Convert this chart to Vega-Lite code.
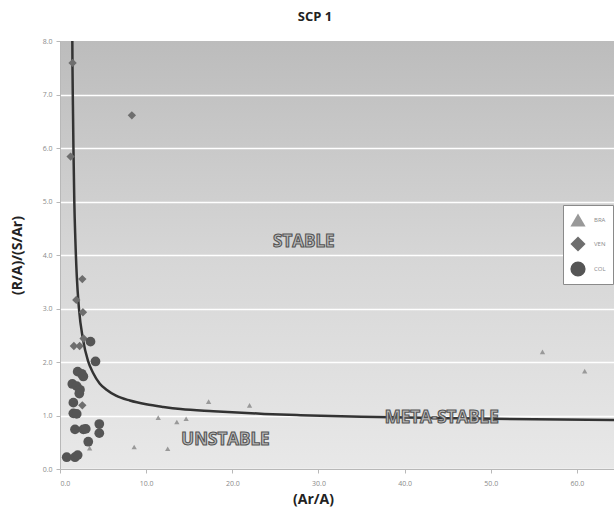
{
  "$schema": "https://vega.github.io/schema/vega-lite/v6.json",
  "width": 554,
  "height": 428,
  "autosize": {"type": "none"},
  "padding": {"left": 60, "top": 41, "right": 0, "bottom": 50},
  "background": "white",
  "title": {"text": "SCP 1", "fontSize": 13, "font": "Open Sans", "fontWeight": "bold", "color": "#222222", "offset": 13, "dx": -22},
  "config": {
    "view": {"stroke": null, "fill": {"gradient": "linear", "x1": 0, "y1": 0, "x2": 0, "y2": 1, "stops": [{"offset": 0, "color": "#bcbcbc"}, {"offset": 0.5, "color": "#d6d6d6"}, {"offset": 1, "color": "#e8e8e8"}]}},
    "axis": {"labelFont": "Open Sans", "labelFontSize": 7, "labelColor": "#8a8a8a", "tickColor": "#b8b8b8", "domainColor": "#b8b8b8", "tickSize": 4, "titleFont": "Open Sans", "titleFontSize": 14, "titleFontWeight": "bold", "titleColor": "#222222"},
    "legend": {"title": null, "orient": "none", "legendX": 503, "legendY": 164, "fillColor": "#ffffff", "strokeColor": "#8a8a8a", "padding": 7, "symbolSize": 230, "labelFontSize": 6, "labelColor": "#8a8a8a", "labelFont": "Open Sans", "rowPadding": 9, "labelOffset": 8, "symbolStrokeWidth": 0}
  },
  "datasets": {
    "points": [
      {"series": "BRA", "arA": 17.25, "ratio": 1.26},
      {"series": "BRA", "arA": 22.0, "ratio": 1.19},
      {"series": "BRA", "arA": 11.4, "ratio": 0.96},
      {"series": "BRA", "arA": 13.56, "ratio": 0.88},
      {"series": "BRA", "arA": 14.64, "ratio": 0.94},
      {"series": "BRA", "arA": 8.61, "ratio": 0.41},
      {"series": "BRA", "arA": 12.5, "ratio": 0.38},
      {"series": "BRA", "arA": 3.44, "ratio": 0.39},
      {"series": "BRA", "arA": 56.0, "ratio": 2.19},
      {"series": "BRA", "arA": 60.9, "ratio": 1.83},
      {"series": "VEN", "arA": 1.46, "ratio": 7.59},
      {"series": "VEN", "arA": 1.23, "ratio": 5.84},
      {"series": "VEN", "arA": 8.34, "ratio": 6.61},
      {"series": "VEN", "arA": 2.59, "ratio": 3.55},
      {"series": "VEN", "arA": 1.89, "ratio": 3.16},
      {"series": "VEN", "arA": 2.66, "ratio": 2.93},
      {"series": "VEN", "arA": 2.74, "ratio": 2.44},
      {"series": "VEN", "arA": 1.61, "ratio": 2.30},
      {"series": "VEN", "arA": 2.28, "ratio": 2.30},
      {"series": "VEN", "arA": 2.59, "ratio": 1.19},
      {"series": "COL", "arA": 3.54, "ratio": 2.38},
      {"series": "COL", "arA": 4.12, "ratio": 2.01},
      {"series": "COL", "arA": 2.05, "ratio": 1.82},
      {"series": "COL", "arA": 2.52, "ratio": 1.78},
      {"series": "COL", "arA": 2.71, "ratio": 1.73},
      {"series": "COL", "arA": 1.43, "ratio": 1.59},
      {"series": "COL", "arA": 1.94, "ratio": 1.55},
      {"series": "COL", "arA": 2.32, "ratio": 1.48},
      {"series": "COL", "arA": 2.24, "ratio": 1.41},
      {"series": "COL", "arA": 1.55, "ratio": 1.24},
      {"series": "COL", "arA": 1.55, "ratio": 1.04},
      {"series": "COL", "arA": 1.94, "ratio": 1.03},
      {"series": "COL", "arA": 1.74, "ratio": 0.74},
      {"series": "COL", "arA": 2.71, "ratio": 0.74},
      {"series": "COL", "arA": 2.99, "ratio": 0.75},
      {"series": "COL", "arA": 4.56, "ratio": 0.84},
      {"series": "COL", "arA": 4.56, "ratio": 0.67},
      {"series": "COL", "arA": 3.28, "ratio": 0.51},
      {"series": "COL", "arA": 0.78, "ratio": 0.22},
      {"series": "COL", "arA": 1.74, "ratio": 0.22},
      {"series": "COL", "arA": 2.05, "ratio": 0.26}
    ],
    "curve": [
      {"arA": 1.42, "ratio": 8.3},
      {"arA": 1.45, "ratio": 7.5},
      {"arA": 1.5, "ratio": 6.8},
      {"arA": 1.56, "ratio": 6.0},
      {"arA": 1.66, "ratio": 5.0},
      {"arA": 1.78, "ratio": 4.3},
      {"arA": 1.95, "ratio": 3.6},
      {"arA": 2.2, "ratio": 3.0},
      {"arA": 2.66, "ratio": 2.43},
      {"arA": 3.25, "ratio": 2.02},
      {"arA": 3.83, "ratio": 1.8},
      {"arA": 4.6, "ratio": 1.6},
      {"arA": 5.4, "ratio": 1.48},
      {"arA": 6.5, "ratio": 1.37},
      {"arA": 8.1, "ratio": 1.28},
      {"arA": 10.0, "ratio": 1.21},
      {"arA": 12.0, "ratio": 1.16},
      {"arA": 14.0, "ratio": 1.12},
      {"arA": 17.8, "ratio": 1.08},
      {"arA": 23.7, "ratio": 1.03},
      {"arA": 27.9, "ratio": 1.005},
      {"arA": 35.0, "ratio": 0.975},
      {"arA": 45.0, "ratio": 0.95},
      {"arA": 55.0, "ratio": 0.93},
      {"arA": 64.3, "ratio": 0.915}
    ],
    "labels": [
      {"text": "STABLE", "arA": 28.3, "ratio": 4.25},
      {"text": "UNSTABLE", "arA": 19.2, "ratio": 0.55},
      {"text": "META-STABLE", "arA": 44.3, "ratio": 0.96}
    ]
  },
  "layer": [
    {
      "data": {"name": "curve"},
      "mark": {"type": "line", "color": "#333333", "strokeWidth": 2.5, "interpolate": "monotone", "clip": true},
      "encoding": {
        "x": {"field": "arA", "type": "quantitative", "scale": {"domain": [0, 64.3], "nice": false}, "axis": {"values": [0, 10, 20, 30, 40, 50, 60], "format": ".1f", "grid": false, "title": "(Ar/A)", "titlePadding": 6, "labelPadding": 6, "titleX": 253}},
        "y": {"field": "ratio", "type": "quantitative", "scale": {"domain": [0, 8], "nice": false}, "axis": {"values": [0, 1, 2, 3, 4, 5, 6, 7, 8], "format": ".1f", "grid": true, "gridColor": {"condition": {"test": "datum.value == 8", "value": "transparent"}, "value": "#ffffff"}, "gridWidth": 1.5, "title": "(R/A)/(S/Ar)", "titlePadding": 18, "labelPadding": 4}},
        "order": {"field": "arA", "type": "quantitative"}
      }
    },
    {
      "data": {"name": "labels"},
      "mark": {"type": "text", "font": "Open Sans", "fontWeight": "bold", "fontSize": 17, "fill": "#bdbdbd", "stroke": "#555555", "strokeWidth": 1.1},
      "encoding": {
        "x": {"field": "arA", "type": "quantitative"},
        "y": {"field": "ratio", "type": "quantitative"},
        "text": {"field": "text"}
      }
    },
    {
      "data": {"name": "points"},
      "transform": [{"filter": "datum.series == 'BRA'"}],
      "mark": {"type": "point", "filled": true, "opacity": 1, "clip": true, "size": 28},
      "encoding": {
        "x": {"field": "arA", "type": "quantitative"},
        "y": {"field": "ratio", "type": "quantitative"},
        "shape": {"field": "series", "type": "nominal", "scale": {"domain": ["BRA", "VEN", "COL"], "range": ["triangle-up", "diamond", "circle"]}},
        "color": {"field": "series", "type": "nominal", "scale": {"domain": ["BRA", "VEN", "COL"], "range": ["#999999", "#6e6e6e", "#555555"]}}
      }
    },
    {
      "data": {"name": "points"},
      "transform": [{"filter": "datum.series == 'VEN'"}],
      "mark": {"type": "point", "filled": true, "opacity": 1, "clip": true, "size": 70},
      "encoding": {
        "x": {"field": "arA", "type": "quantitative"},
        "y": {"field": "ratio", "type": "quantitative"},
        "shape": {"field": "series", "type": "nominal"},
        "color": {"field": "series", "type": "nominal"}
      }
    },
    {
      "data": {"name": "points"},
      "transform": [{"filter": "datum.series == 'COL'"}],
      "mark": {"type": "point", "filled": true, "opacity": 1, "clip": true, "size": 95},
      "encoding": {
        "x": {"field": "arA", "type": "quantitative"},
        "y": {"field": "ratio", "type": "quantitative"},
        "shape": {"field": "series", "type": "nominal"},
        "color": {"field": "series", "type": "nominal"}
      }
    }
  ]
}
